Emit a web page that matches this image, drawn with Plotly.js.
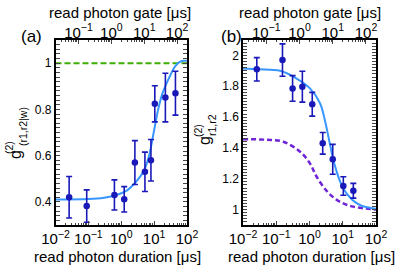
<!DOCTYPE html>
<html><head><meta charset="utf-8">
<script src="https://cdn.plot.ly/plotly-3.0.1.min.js"></script>
<style>html,body{margin:0;padding:0;background:#fff;}#p{width:399px;height:267px;}</style>
</head><body><div id="p"></div>
<script>
// Panel (a) data
const xA = [0.026, 0.089, 0.62, 1.23, 2.6, 5.25, 8.0, 10.5, 22, 44.5];
const yA = [0.42, 0.382, 0.43, 0.411, 0.57, 0.53, 0.58, 0.824, 0.851, 0.87];
const eA = [0.09, 0.07, 0.065, 0.055, 0.095, 0.085, 0.09, 0.078, 0.105, 0.095];
const fitAx = [0.01, 0.1, 0.3, 0.72, 1.5, 2.3, 4.7, 6.9, 10, 13.3, 18, 24, 43, 60, 80, 100];
const fitAy = [0.41, 0.412, 0.418, 0.43, 0.45, 0.473, 0.53, 0.596, 0.71, 0.80, 0.87, 0.913, 0.985, 1.005, 1.01, 1.01];
const refAx = [0.01, 100];
const refAy = [1, 1];
// Panel (b) data
const xB = [0.026, 0.154, 0.31, 0.61, 1.21, 2.5, 5.0, 10.4, 20.8];
const yB = [1.91, 1.97, 1.786, 1.797, 1.683, 1.43, 1.326, 1.153, 1.122];
const eB = [0.076, 0.105, 0.083, 0.1, 0.077, 0.07, 0.097, 0.06, 0.048];
const fitBx = [0.01, 0.03, 0.13, 0.41, 1.03, 2.07, 2.9, 3.9, 5.1, 6.7, 8.8, 11.6, 16.3, 23, 37, 100];
const fitBy = [1.915, 1.91, 1.9, 1.85, 1.786, 1.69, 1.58, 1.45, 1.33, 1.24, 1.17, 1.12, 1.08, 1.05, 1.025, 1.005];
const modBx = [0.01, 0.05, 0.163, 0.52, 1.03, 1.64, 3.67, 8.3, 20.7, 100];
const modBy = [1.456, 1.453, 1.44, 1.375, 1.30, 1.213, 1.11, 1.05, 1.019, 1.0];
// axes
const durRange = [0.01, 100];
const gateRange = [0.02, 200];
const yTicksA = [0.4, 0.6, 0.8, 1];
const yTextA = ['0.4', '0.6', '0.8', '1'];
const yTicksB = [1, 1.2, 1.4, 1.6, 1.8, 2];
const yTextB = ['1', '1.2', '1.4', '1.6', '1.8', '2'];

const DARK = 'rgb(25,25,185)', LIGHT = 'rgb(55,150,255)', GREEN = 'rgb(60,175,0)', PURPLE = 'rgb(110,35,215)';
const FONT = 'Liberation Sans, Arial, sans-serif';
const W = 399, H = 267;
const yDom = [1 - 225 / H, 1 - 40 / H];

function pts(x, y, e, xa, ya) {
  return {x, y, xaxis: xa, yaxis: ya, mode: 'markers', type: 'scatter',
    marker: {color: DARK, size: 6.5},
    error_y: {type: 'data', array: e, visible: true, color: DARK, thickness: 1.6, width: 3},
    showlegend: false, hoverinfo: 'skip'};
}
function line(x, y, xa, ya, color, width, dash) {
  return {x, y, xaxis: xa, yaxis: ya, mode: 'lines', type: 'scatter',
    line: {color, width, dash, shape: 'spline'}, showlegend: false, hoverinfo: 'skip'};
}
function ghost(xa, ya, yv) {
  return {x: [1], y: [yv], xaxis: xa, yaxis: ya, mode: 'markers', marker: {opacity: 0}, showlegend: false, hoverinfo: 'skip'};
}
const data = [
  line(refAx, refAy, 'x', 'y', GREEN, 2, '6px,3px'),
  line(fitAx, fitAy, 'x', 'y', LIGHT, 2, 'solid'),
  pts(xA, yA, eA, 'x', 'y'),
  ghost('x2', 'y', 0.5), ghost('x5', 'y', 0.5),
  line(modBx, modBy, 'x3', 'y2', PURPLE, 2.5, '5px,3px'),
  line(fitBx, fitBy, 'x3', 'y2', LIGHT, 2, 'solid'),
  pts(xB, yB, eB, 'x3', 'y2'),
  ghost('x4', 'y2', 1.5), ghost('x6', 'y2', 1.5)
];

const alias = {'1': '10<sup>0</sup>', '10': '10<sup>1</sup>'};
function botAx(domain, anchor) {
  return {domain, anchor, type: 'log', range: durRange.map(Math.log10), dtick: 1, exponentformat: 'power',
    labelalias: alias, ticks: 'inside', ticklen: 4, tickwidth: 1, showline: true, mirror: true,
    linecolor: 'black', linewidth: 1.6, showgrid: false, zeroline: false,
    minor: {ticks: 'inside', ticklen: 2, showgrid: false},
    tickfont: {family: FONT, size: 12, color: 'black'}};
}
// top axis: ticks only
function topTicks(over, anchor) {
  return {overlaying: over, anchor, side: 'top', type: 'log', range: gateRange.map(Math.log10), dtick: 1,
    ticks: 'inside', ticklen: 4, showline: false, showticklabels: false,
    showgrid: false, zeroline: false, minor: {ticks: 'inside', ticklen: 2, showgrid: false}};
}
// top axis: labels only
function topLabels(over) {
  return {overlaying: over, anchor: 'free', position: 1 - 40.5 / H, side: 'top', type: 'log',
    range: gateRange.map(Math.log10), dtick: 1, exponentformat: 'power', labelalias: alias,
    ticks: '', showline: false, showgrid: false, zeroline: false,
    tickfont: {family: FONT, size: 12, color: 'black'}};
}
function yAx(domain, anchor, range, tv, tt, mdt) {
  return {domain, anchor, range, tickmode: 'array', tickvals: tv, ticktext: tt, ticks: 'inside', ticklen: 4,
    showline: true, mirror: 'allticks', linecolor: 'black', linewidth: 1.6, showgrid: false, zeroline: false,
    minor: {ticks: 'inside', ticklen: 2, dtick: mdt, showgrid: false, tick0: 0},
    tickfont: {family: FONT, size: 12, color: 'black'}};
}
function ann(text, px, py, size, angle) {
  return {text, x: px / W, y: 1 - py / H, xref: 'paper', yref: 'paper', showarrow: false,
    xanchor: 'center', yanchor: 'middle', textangle: angle || 0,
    font: {family: FONT, size, color: 'black'}};
}
const layout = {
  width: W, height: H, margin: {l: 0, r: 0, t: 0, b: 0},
  paper_bgcolor: 'white', plot_bgcolor: 'white', showlegend: false,
  xaxis: botAx([55.5 / W, 187 / W], 'y'),
  xaxis2: topTicks('x', 'y'),
  xaxis5: topLabels('x'),
  yaxis: yAx(yDom, 'x', [0.3, 1.1], yTicksA, yTextA, 0.02),
  xaxis3: botAx([243 / W, 376 / W], 'y2'),
  xaxis4: topTicks('x3', 'y2'),
  xaxis6: topLabels('x3'),
  yaxis2: yAx(yDom, 'x3', [0.9, 2.1], yTicksB, yTextB, 0.02),
  annotations: [
    ann('(a)', 31, 36, 17), ann('(b)', 231, 36, 17),
    ann('read photon gate [μs]', 120, 12, 15), ann('read photon gate [μs]', 310, 12, 15),
    ann('read photon duration [μs]', 117, 256, 15), ann('read photon duration [μs]', 311, 256, 15),
    ann('g', 15, 155, 16, -90), ann('(2)', 9, 148, 10.5, -90), ann('(r1,r2|w)', 23, 127, 10.5, -90),
    ann('g', 204, 141, 16, -90), ann('(2)', 198, 131, 10.5, -90), ann('r1,r2', 212, 125, 10.5, -90)
  ]
};
Plotly.newPlot('p', data, layout, {staticPlot: true});
</script></body></html>
